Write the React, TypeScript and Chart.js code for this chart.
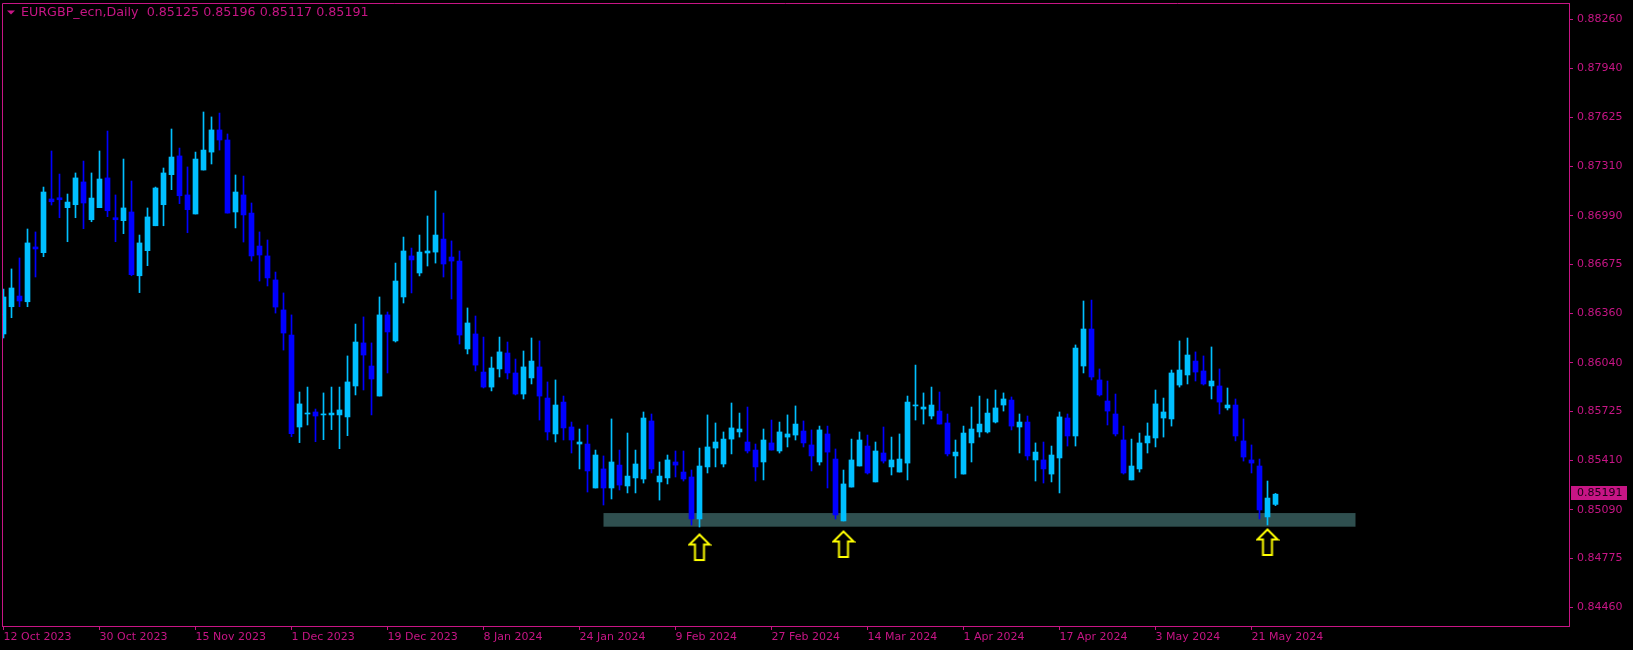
import React, { useEffect, useRef } from "react";
import { Chart, registerables } from "chart.js";

Chart.register(...registerables);

const opens = [
  0.86226, 0.86402, 0.86471, 0.86434, 0.86788, 0.86751, 0.87098, 0.87106, 0.87042, 0.87061,
  0.87208, 0.86964, 0.87042, 0.87234, 0.86977, 0.86958, 0.87014, 0.86602, 0.86764, 0.86925,
  0.87061, 0.87255, 0.87376, 0.87124, 0.87001, 0.87285, 0.87401, 0.87544, 0.87479, 0.87014,
  0.87124, 0.87007, 0.86794, 0.86730, 0.86575, 0.86381, 0.86219, 0.85625, 0.85709, 0.85722,
  0.85703, 0.85703, 0.85703, 0.85690, 0.85890, 0.86168, 0.86019, 0.85825, 0.86349, 0.86181,
  0.86465, 0.86730, 0.86620, 0.86749, 0.86755, 0.86839, 0.86723, 0.86697, 0.86129, 0.86226,
  0.85980, 0.85883, 0.86000, 0.86103, 0.85974, 0.85838, 0.85942, 0.86013, 0.85812, 0.85580,
  0.85786, 0.85625, 0.85515, 0.85515, 0.85231, 0.85354, 0.85231, 0.85379, 0.85244, 0.85296,
  0.85289, 0.85664, 0.85270, 0.85296, 0.85399, 0.85334, 0.85302, 0.85031, 0.85367, 0.85489,
  0.85386, 0.85547, 0.85593, 0.85528, 0.85476, 0.85399, 0.85522, 0.85470, 0.85560, 0.85573,
  0.85599, 0.85509, 0.85399, 0.85580, 0.85418, 0.85018, 0.85237, 0.85373, 0.85502, 0.85270,
  0.85457, 0.85367, 0.85334, 0.85392, 0.85761, 0.85741, 0.85696, 0.85728, 0.85651, 0.85438,
  0.85321, 0.85522, 0.85593, 0.85593, 0.85657, 0.85767, 0.85799, 0.85625, 0.85657, 0.85412,
  0.85412, 0.85321, 0.85425, 0.85683, 0.85567, 0.86019, 0.86258, 0.85929, 0.85793, 0.85709,
  0.85541, 0.85283, 0.85354, 0.85522, 0.85554, 0.85683, 0.85677, 0.85896, 0.85961, 0.86051,
  0.85987, 0.85890, 0.85890, 0.85748, 0.85767, 0.85535, 0.85412, 0.85373, 0.85044, 0.85125,
];

const highs = [
  0.86516, 0.86646, 0.86717, 0.86904, 0.86885, 0.87175, 0.87408, 0.87259, 0.87130, 0.87266,
  0.87343, 0.87266, 0.87408, 0.87537, 0.87124, 0.87356, 0.87214, 0.86865, 0.87040, 0.87175,
  0.87298, 0.87550, 0.87427, 0.87305, 0.87401, 0.87660, 0.87628, 0.87653, 0.87518, 0.87253,
  0.87246, 0.87072, 0.86885, 0.86833, 0.86626, 0.86491, 0.86349, 0.85851, 0.85883, 0.85741,
  0.85845, 0.85883, 0.85883, 0.86084, 0.86290, 0.86336, 0.86168, 0.86465, 0.86368, 0.86684,
  0.86852, 0.86781, 0.86865, 0.86988, 0.87150, 0.87007, 0.86827, 0.86762, 0.86394, 0.86342,
  0.86206, 0.86077, 0.86206, 0.86174, 0.86064, 0.86116, 0.86200, 0.86181, 0.85916, 0.85929,
  0.85825, 0.85657, 0.85612, 0.85638, 0.85476, 0.85438, 0.85677, 0.85476, 0.85586, 0.85476,
  0.85722, 0.85709, 0.85399, 0.85444, 0.85470, 0.85470, 0.85347, 0.85489, 0.85703, 0.85651,
  0.85593, 0.85780, 0.85715, 0.85754, 0.85515, 0.85612, 0.85670, 0.85657, 0.85703, 0.85761,
  0.85664, 0.85606, 0.85631, 0.85631, 0.85483, 0.85347, 0.85547, 0.85593, 0.85573, 0.85528,
  0.85625, 0.85560, 0.85580, 0.85825, 0.86025, 0.85845, 0.85883, 0.85851, 0.85709, 0.85541,
  0.85631, 0.85754, 0.85825, 0.85806, 0.85864, 0.85845, 0.85819, 0.85709, 0.85696, 0.85522,
  0.85528, 0.85502, 0.85722, 0.85709, 0.86155, 0.86439, 0.86445, 0.86000, 0.85922, 0.85838,
  0.85631, 0.85547, 0.85586, 0.85651, 0.85864, 0.85812, 0.85993, 0.86181, 0.86200, 0.86110,
  0.86084, 0.86142, 0.86000, 0.85877, 0.85806, 0.85677, 0.85509, 0.85418, 0.85276, 0.85196,
];

const lows = [
  0.86200, 0.86331, 0.86402, 0.86402, 0.86594, 0.86725, 0.87059, 0.86977, 0.86822, 0.86977,
  0.86906, 0.86951, 0.87042, 0.86984, 0.86822, 0.86874, 0.86602, 0.86493, 0.86667, 0.86925,
  0.86925, 0.87158, 0.87068, 0.86880, 0.87001, 0.87285, 0.87324, 0.87414, 0.87007, 0.86911,
  0.86820, 0.86697, 0.86568, 0.86536, 0.86361, 0.86122, 0.85562, 0.85524, 0.85638, 0.85530,
  0.85543, 0.85608, 0.85485, 0.85569, 0.85832, 0.85864, 0.85703, 0.85825, 0.85974, 0.86174,
  0.86426, 0.86491, 0.86601, 0.86665, 0.86684, 0.86594, 0.86452, 0.86161, 0.86097, 0.85987,
  0.85877, 0.85858, 0.85948, 0.85935, 0.85832, 0.85806, 0.85903, 0.85670, 0.85541, 0.85528,
  0.85541, 0.85457, 0.85354, 0.85205, 0.85231, 0.85121, 0.85160, 0.85218, 0.85199, 0.85199,
  0.85263, 0.85328, 0.85153, 0.85257, 0.85302, 0.85276, 0.84992, 0.84979, 0.85328, 0.85367,
  0.85367, 0.85451, 0.85560, 0.85457, 0.85276, 0.85283, 0.85476, 0.85457, 0.85496, 0.85541,
  0.85496, 0.85341, 0.85379, 0.85231, 0.85031, 0.85018, 0.85237, 0.85373, 0.85321, 0.85270,
  0.85392, 0.85315, 0.85334, 0.85283, 0.85670, 0.85644, 0.85677, 0.85644, 0.85438, 0.85296,
  0.85321, 0.85399, 0.85560, 0.85586, 0.85651, 0.85728, 0.85606, 0.85457, 0.85412, 0.85276,
  0.85263, 0.85270, 0.85199, 0.85502, 0.85502, 0.85974, 0.85929, 0.85825, 0.85638, 0.85567,
  0.85321, 0.85283, 0.85334, 0.85457, 0.85496, 0.85560, 0.85631, 0.85883, 0.85903, 0.85922,
  0.85896, 0.85806, 0.85709, 0.85735, 0.85535, 0.85405, 0.85328, 0.85031, 0.84992, 0.85117,
];

const closes = [
  0.86465, 0.86523, 0.86439, 0.86814, 0.86775, 0.87143, 0.87080, 0.87093, 0.87078, 0.87234,
  0.87072, 0.87104, 0.87227, 0.87022, 0.86964, 0.87040, 0.86609, 0.86814, 0.86982, 0.87169,
  0.87266, 0.87369, 0.87119, 0.87029, 0.87356, 0.87414, 0.87544, 0.87479, 0.87007, 0.87143,
  0.86995, 0.86730, 0.86736, 0.86588, 0.86400, 0.86232, 0.85582, 0.85774, 0.85715, 0.85696,
  0.85709, 0.85715, 0.85735, 0.85916, 0.86174, 0.86090, 0.85935, 0.86349, 0.86239, 0.86568,
  0.86762, 0.86704, 0.86755, 0.86762, 0.86865, 0.86678, 0.86697, 0.86219, 0.86297, 0.86025,
  0.85883, 0.86006, 0.86110, 0.85974, 0.85838, 0.86013, 0.86051, 0.85825, 0.85593, 0.85767,
  0.85619, 0.85541, 0.85528, 0.85341, 0.85444, 0.85231, 0.85399, 0.85250, 0.85308, 0.85386,
  0.85683, 0.85354, 0.85308, 0.85412, 0.85379, 0.85289, 0.85031, 0.85373, 0.85496, 0.85528,
  0.85547, 0.85619, 0.85612, 0.85470, 0.85367, 0.85541, 0.85476, 0.85593, 0.85580, 0.85644,
  0.85522, 0.85438, 0.85606, 0.85463, 0.85057, 0.85257, 0.85412, 0.85541, 0.85328, 0.85470,
  0.85405, 0.85412, 0.85418, 0.85786, 0.85767, 0.85754, 0.85767, 0.85644, 0.85451, 0.85463,
  0.85586, 0.85612, 0.85644, 0.85715, 0.85748, 0.85806, 0.85631, 0.85657, 0.85438, 0.85463,
  0.85354, 0.85444, 0.85690, 0.85567, 0.86135, 0.86258, 0.85948, 0.85832, 0.85728, 0.85580,
  0.85328, 0.85373, 0.85522, 0.85567, 0.85774, 0.85722, 0.85974, 0.85993, 0.86090, 0.85980,
  0.85903, 0.85922, 0.85786, 0.85767, 0.85567, 0.85431, 0.85392, 0.85089, 0.85166, 0.85191,
];

const dateLabels = [
  "12 Oct 2023", "30 Oct 2023", "15 Nov 2023", "1 Dec 2023", "19 Dec 2023", "8 Jan 2024",
  "24 Jan 2024", "9 Feb 2024", "27 Feb 2024", "14 Mar 2024", "1 Apr 2024", "17 Apr 2024",
  "3 May 2024", "21 May 2024",
];
const dateTickBars = [0, 12, 24, 36, 48, 60, 72, 84, 96, 108, 120, 132, 144, 156];

const priceTicks = [
  0.8826, 0.8794, 0.87625, 0.8731, 0.8699, 0.86675, 0.8636, 0.8604, 0.85725, 0.8541,
  0.8509, 0.84775, 0.8446,
];

const zoneBars = [75, 169];
const zonePrices = [0.85069, 0.84981];

const arrowBars = [87, 105, 158];
const arrowPrices = [0.84843, 0.84863, 0.84876];

const headerText = "EURGBP_ecn,Daily  0.85125 0.85196 0.85117 0.85191";
const lastPrice = 0.85191;

const FG = "#C71585";
const BULL = "#00BFFF";
const BEAR = "#0000FF";
const ZONE = "#2F4F4F";
const FONT = "DejaVu Sans";

function makeArrow(): HTMLCanvasElement {
  const c = document.createElement("canvas");
  c.width = 24;
  c.height = 30;
  const g = c.getContext("2d")!;
  g.beginPath();
  g.moveTo(12, 1.5);
  g.lineTo(22, 11.5);
  g.lineTo(16.5, 11.5);
  g.lineTo(16.5, 27);
  g.lineTo(7.5, 27);
  g.lineTo(7.5, 11.5);
  g.lineTo(2, 11.5);
  g.closePath();
  g.fillStyle = "#000000";
  g.fill();
  g.lineWidth = 2;
  g.lineJoin = "miter";
  g.strokeStyle = "#FFFF00";
  g.stroke();
  return c;
}

function zeroPad(s: any) {
  s.paddingLeft = 0;
  s.paddingRight = 0;
  s.paddingTop = 0;
  s.paddingBottom = 0;
}

export default function App() {
  const ref = useRef<HTMLCanvasElement | null>(null);

  useEffect(() => {
    const canvas = ref.current;
    if (!canvas) return;
    const n = opens.length;
    const idx = Array.from({ length: n }, (_, i) => i);
    const colors = idx.map((i) => (closes[i] >= opens[i] ? BULL : BEAR));
    const arrowImg = makeArrow();

    const bgPlugin = {
      id: "bg",
      beforeDraw(chart: any) {
        const ctx = chart.ctx;
        ctx.save();
        ctx.fillStyle = "#000000";
        ctx.fillRect(0, 0, chart.width, chart.height);
        ctx.restore();
      },
    };

    const zonePlugin = {
      id: "zone",
      beforeDatasetsDraw(chart: any) {
        const { ctx, scales } = chart;
        const x1 = scales.x.getPixelForValue(zoneBars[0]);
        const x2 = scales.x.getPixelForValue(zoneBars[1]);
        const y1 = scales.y.getPixelForValue(zonePrices[0]);
        const y2 = scales.y.getPixelForValue(zonePrices[1]);
        ctx.save();
        ctx.fillStyle = ZONE;
        ctx.fillRect(x1, y1, x2 - x1, y2 - y1);
        ctx.restore();
      },
    };

    const overlayPlugin = {
      id: "overlay",
      afterDraw(chart: any) {
        const { ctx, chartArea, scales } = chart;
        ctx.save();
        ctx.strokeStyle = FG;
        ctx.lineWidth = 1;
        ctx.beginPath();
        ctx.moveTo(chartArea.left + 0.5, chartArea.bottom);
        ctx.lineTo(chartArea.left + 0.5, chartArea.top + 0.5);
        ctx.lineTo(chartArea.right, chartArea.top + 0.5);
        ctx.stroke();

        // header
        ctx.fillStyle = FG;
        ctx.beginPath();
        ctx.moveTo(7, 10.5);
        ctx.lineTo(15, 10.5);
        ctx.lineTo(11, 14.5);
        ctx.closePath();
        ctx.fill();
        ctx.font = `12.7px "${FONT}"`;
        ctx.textBaseline = "middle";
        ctx.textAlign = "left";
        ctx.fillText(headerText, 21, 13);

        // current price label
        const py = Math.round(scales.y.getPixelForValue(lastPrice));
        ctx.fillStyle = FG;
        ctx.fillRect(chartArea.right + 2, py - 8, 56, 14);
        ctx.font = `11px "${FONT}"`;
        ctx.fillStyle = "#1a0014";
        ctx.fillText(lastPrice.toFixed(5), chartArea.right + 8, py - 1);
        ctx.restore();
      },
    };

    const chart = new Chart(canvas, {
      type: "bar",
      data: {
        datasets: [
          {
            type: "bar",
            data: idx.map((i) => ({ x: i, y: [lows[i], highs[i]] })) as any,
            backgroundColor: colors,
            borderWidth: 0,
            barThickness: 1,
            grouped: false,
            order: 3,
          } as any,
          {
            type: "bar",
            data: idx.map((i) => ({ x: i, y: [opens[i], closes[i]] })) as any,
            backgroundColor: colors,
            borderWidth: 0,
            barThickness: 5,
            minBarLength: 1,
            grouped: false,
            order: 2,
          } as any,
          {
            type: "scatter",
            data: arrowBars.map((b, k) => ({ x: b, y: arrowPrices[k] })),
            pointStyle: arrowImg as any,
            pointRadius: 12,
            showLine: false,
            clip: false,
            order: 1,
          } as any,
        ],
      },
      options: {
        animation: false,
        responsive: false,
        maintainAspectRatio: false,
        events: [],
        layout: { autoPadding: false, padding: { left: 2, top: 3, right: 0, bottom: 0 } },
        plugins: {
          legend: { display: false },
          tooltip: { enabled: false },
          title: { display: false },
        },
        scales: {
          x: {
            type: "linear",
            min: -0.1875,
            max: 195.6875,
            offset: false,
            bounds: "data",
            grid: {
              display: true,
              drawOnChartArea: false,
              drawTicks: true,
              tickLength: 4,
              color: FG,
              offset: false,
            },
            border: { display: true, color: FG, width: 1 },
            ticks: {
              autoSkip: false,
              maxRotation: 0,
              minRotation: 0,
              align: "start",
              padding: 1,
              color: FG,
              font: { family: FONT, size: 11 },
              callback: (v: any) => {
                const k = dateTickBars.indexOf(Number(v));
                return k >= 0 ? dateLabels[k] : "";
              },
            },
            afterBuildTicks: (s: any) => {
              s.ticks = dateTickBars.map((v) => ({ value: v }));
            },
            afterFit: (s: any) => {
              s.height = 24;
              zeroPad(s);
            },
          } as any,
          y: {
            type: "linear",
            position: "right",
            min: 0.8433944,
            max: 0.8836402,
            bounds: "data",
            beginAtZero: false,
            grid: {
              display: true,
              drawOnChartArea: false,
              drawTicks: true,
              tickLength: 4,
              color: FG,
            },
            border: { display: true, color: FG, width: 1 },
            ticks: {
              padding: 4,
              color: FG,
              font: { family: FONT, size: 11 },
              callback: (v: any) => Number(v).toFixed(5),
            },
            afterBuildTicks: (s: any) => {
              s.ticks = priceTicks.map((v) => ({ value: v }));
            },
            afterFit: (s: any) => {
              s.width = 64;
              zeroPad(s);
            },
          } as any,
        },
      },
      plugins: [bgPlugin, zonePlugin, overlayPlugin],
    } as any);

    return () => chart.destroy();
  }, []);

  return (
    <canvas
      ref={ref}
      width={1633}
      height={650}
      style={{ position: "fixed", left: 0, top: 0, width: 1633, height: 650, display: "block", background: "#000" }}
    />
  );
}
